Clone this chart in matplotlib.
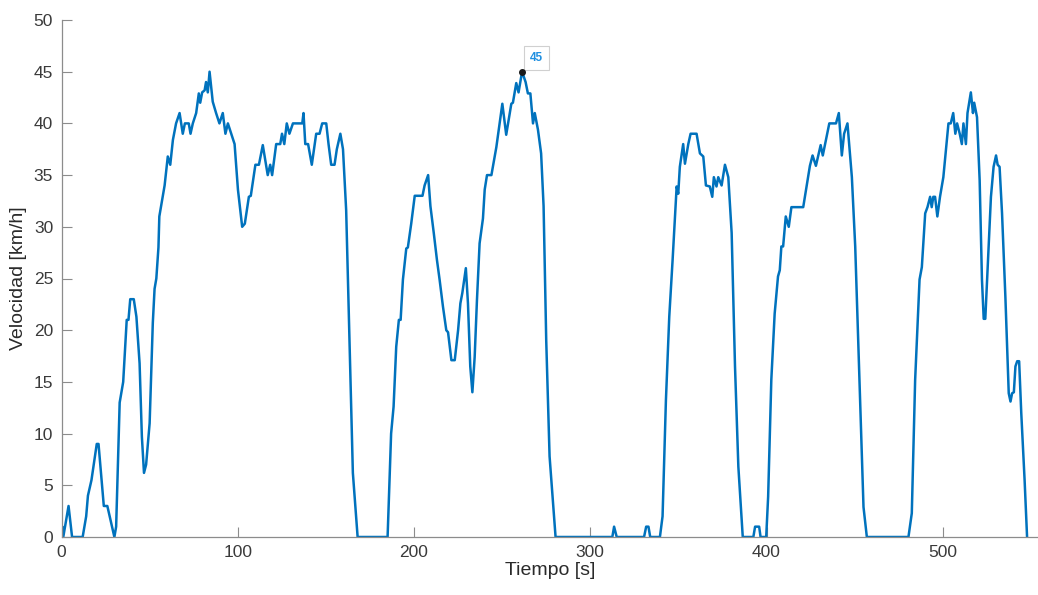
# -*- coding: utf-8 -*-
import matplotlib
matplotlib.use('Agg')
import matplotlib.pyplot as plt

plt.rcParams['font.family'] = ['Liberation Sans', 'DejaVu Sans']

# velocidad (s, km/h)
tiempo = [0, 0.5, 1, 4, 6, 12, 14, 15, 17, 20, 21, 24, 26, 30, 31, 33, 35, 37, 38, 39, 41,
          42.5, 44.3, 45.6, 46.8, 48, 50, 51.8, 52.8, 53.8, 55, 55.5, 58.5, 60.3, 61.7, 63.2,
          65, 67, 68.8, 70, 72.2, 73.2, 74.5, 76.4, 77.9, 78.7, 79.8, 81.2, 82, 83, 84, 85.8,
          87.7, 89.6, 91.5, 93, 94.4, 96.3, 98.2, 100.1, 102.5, 104, 106.3, 107.4, 110, 112,
          114.2, 117, 118.4, 119.5, 121.8, 124.1, 125.1, 126.4, 127.8, 129.3, 131.3, 136.6,
          137.3, 138.3, 139.9, 142, 144.5, 146.4, 147.9, 150.2, 151.5, 153, 154.9, 156.2,
          158.2, 159.7, 161.5, 163.4, 165.3, 168, 185, 187, 188.4, 189.9, 191.4, 192.4,
          193.7, 195.6, 196.5, 198.4, 200.4, 204.8, 206, 208, 209.3, 211.2, 213, 214.5,
          216.4, 218.3, 219.3, 221.2, 223.1, 225, 226.3, 227.4, 229.4, 230.6, 231.9, 233.1,
          234.4, 235.7, 237.2, 239.1, 240.1, 241.4, 243.9, 246.7, 250.1, 252.3, 255.2,
          256.1, 258, 259.3, 261.3, 263.3, 264.6, 266, 267.5, 268.5, 270.3, 272.1, 273.5,
          275, 276.9, 280.3, 312.5, 313.5, 315, 330.5, 331.7, 333, 334, 339.5, 341, 342.9,
          344.8, 346.7, 349, 349.9, 350.8, 352.7, 353.7, 355.6, 356.9, 360.3, 362.2, 364.1,
          365.6, 367.8, 369.2, 370.1, 371.6, 372.6, 374.5, 376.4, 378.3, 380.2, 382.1, 384,
          386.5, 392.5, 393.5, 395.8, 396.6, 399.8, 400.9, 402.7, 404.6, 406.5, 407.5, 408.4,
          409.4, 410.9, 412.6, 414.1, 420.8, 424.6, 426.1, 428, 430.7, 431.9, 433.2, 435.6,
          439.4, 441, 442.7, 444, 445.9, 448.4, 450.3, 452.7, 455, 456.9, 480.5, 482.4,
          484.3, 486.8, 488.1, 490, 491.3, 492.8, 493.7, 494.6, 495.6, 496.9, 498.4, 500.3,
          503.2, 504.5, 505.9, 507.1, 508.1, 509.6, 510.8, 511.7, 513.1, 514, 515.9, 517.1,
          517.8, 519.4, 520.9, 522.2, 523.2, 524.1, 526, 527.3, 528.8, 530.2, 531.1, 532.2,
          533.6, 535.5, 537.4, 538.4, 539.3, 540.3, 541.2, 542.2, 543.3, 544.5, 546.4, 547.8]
velocidad = [0, 1, 0, 3, 0, 0, 2, 4, 5.5, 9, 9, 3, 3, 0, 1, 13, 15, 21, 21, 23, 23,
             21.3, 16.8, 9.7, 6.2, 7, 11, 20.7, 24, 25, 28, 31, 34, 36.8, 36, 38.4,
             40, 41, 39, 40, 40, 39, 40, 41, 42.9, 42, 43, 43.2, 44, 43, 45, 42.1,
             41, 40, 41, 39, 40, 39, 38, 33.6, 30, 30.3, 32.9, 33, 36, 36,
             37.9, 35, 36, 35, 38, 38, 39, 38, 40, 39, 40, 40,
             41, 38, 38, 36, 39, 39, 40, 40, 38, 36, 36, 37.5,
             39, 37.5, 31.6, 19, 6.2, 0, 0, 10, 12.6, 18.4, 21, 21,
             24.9, 27.9, 28, 30.3, 33, 33, 34, 35, 32, 29.4, 26.8, 24.9,
             22.3, 20, 19.8, 17.1, 17.1, 20, 22.6, 23.6, 26, 22.6, 16.5, 14,
             17.4, 22.9, 28.4, 30.8, 33.6, 35, 35, 37.7, 41.9, 38.9, 41.9,
             42, 43.9, 43, 45, 44, 42.9, 42.9, 40, 41, 39.4, 37.1, 32,
             19, 7.8, 0, 0, 1, 0, 0, 1, 1, 0, 0, 2, 13.2,
             21.3, 26.8, 33.9, 33.2, 35.8, 38, 36.1, 38, 39, 39, 37.1, 36.8,
             34, 33.9, 32.9, 34.8, 33.9, 34.8, 34, 36, 34.8, 29.4, 16.5, 6.8,
             0, 0, 1, 1, 0, 0, 3.9, 15.2, 21.6, 25.2, 25.8, 28.1,
             28.1, 31, 30, 31.9, 31.9, 35.9, 36.9, 35.9, 37.9, 36.9, 38, 40,
             40, 41, 36.9, 39, 40, 34.8, 28.1, 15.2, 2.9, 0, 0, 2.3,
             15.2, 24.9, 26.1, 31.3, 31.9, 32.9, 31.9, 32.9, 32.9, 31, 32.9, 34.8,
             40, 40, 41, 39, 40, 39, 38, 40, 38, 41, 43, 41,
             42, 40.6, 34.5, 24.9, 21.1, 21.1, 28.1, 32.9, 35.8, 36.9, 36, 35.8,
             31.3, 23.2, 13.9, 13.1, 13.9, 14, 16.5, 17, 17, 12, 5.5, 0]

# punto marcado con datatip
tip_t = 261.3
tip_v = 45

fig = plt.figure(figsize=(10.38, 5.95), dpi=100)
ax = fig.add_axes([61.5 / 1038, 58 / 595, 1 - 61.5 / 1038, 517 / 595])

ax.plot(tiempo, velocidad, color='#0072BD', linewidth=1.8,
        solid_joinstyle='round', solid_capstyle='round')
ax.plot([tip_t], [tip_v], 'o', color='#1a1a1a', markersize=4, zorder=5)
ax.annotate(str(tip_v), xy=(tip_t, tip_v), xytext=(14, 14), textcoords='offset pixels',
            ha='center', va='center', fontsize=8.5, fontweight='bold', color='#1f8fe0',
            bbox=dict(boxstyle='square,pad=0.5', fc='white', ec='#d0d0d0', lw=0.8))

ax.set_xlim(0, 554)
ax.set_ylim(0, 50)
ax.set_xticks([0, 100, 200, 300, 400, 500])
ax.set_yticks(range(0, 51, 5))

for s in ['top', 'right']:
    ax.spines[s].set_visible(False)
for s in ['left', 'bottom']:
    ax.spines[s].set_color('#8c8c8c')
    ax.spines[s].set_linewidth(0.9)
ax.tick_params(direction='in', length=7, width=0.8, color='#8c8c8c',
               labelsize=12.5, labelcolor='#3a3a3a', pad=6)

ax.set_xlabel('Tiempo [s]', fontsize=14, color='#2a2a2a', labelpad=1)
ax.set_ylabel('Velocidad [km/h]', fontsize=14, color='#2a2a2a', labelpad=5)

fig.savefig('out.png', dpi=100)
